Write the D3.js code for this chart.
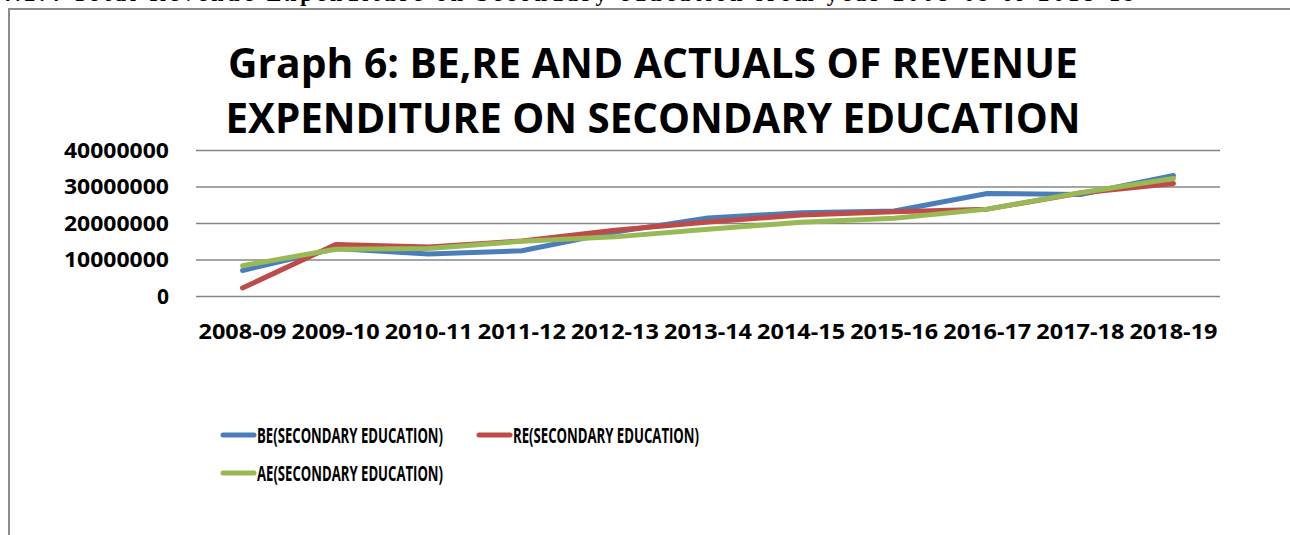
<!DOCTYPE html>
<html>
  <head>
    <meta charset="utf-8">
    <title>Graph 6</title>
    <script src="https://d3js.org/d3.v7.min.js"></script>
    <style>
      body { margin: 0; background: #fff; }
      text { font-family: "Open Sans", "DejaVu Sans", sans-serif; font-weight: bold; fill: #000; }
      .line { fill: none; stroke-width: 5; stroke-linejoin: round; stroke-linecap: round; }
    </style>
  </head>
  <body>
    <svg width="1290" height="535"></svg>
  <script>
    // data
    var years = ["2008-09", "2009-10", "2010-11", "2011-12", "2012-13", "2013-14",
                 "2014-15", "2015-16", "2016-17", "2017-18", "2018-19"];
    var beValues = [7000000, 13000000, 11500000, 12400000, 17500000, 21400000,
                    22800000, 23300000, 28100000, 27800000, 33000000];
    var reValues = [2200000, 14100000, 13400000, 15100000, 18000000, 20300000,
                    22200000, 23100000, 23800000, 28200000, 30800000];
    var aeValues = [8300000, 12800000, 13000000, 15000000, 16200000, 18300000,
                    20200000, 21300000, 23800000, 28300000, 32200000];
    var yTicks = [0, 10000000, 20000000, 30000000, 40000000];

    var series = [
      { name: "BE(SECONDARY EDUCATION)", values: beValues, color: "#4a7ebb" },
      { name: "RE(SECONDARY EDUCATION)", values: reValues, color: "#be4b48" },
      { name: "AE(SECONDARY EDUCATION)", values: aeValues, color: "#98b954" }
    ];

    var svg = d3.select("svg");

    // shrink/grow font so a text fits a given width
    function fitWidth(sel, target) {
      var size = parseFloat(sel.attr("font-size"));
      var len = sel.node().getComputedTextLength();
      sel.attr("font-size", (size * target / len).toFixed(2) + "px");
    }

    // clipped heading of the page above the chart
    svg.append("text")
       .attr("x", 0)
       .attr("y", 1)
       .attr("font-size", "22px")
       .style("font-family", "'Liberation Serif', serif")
       .attr("textLength", 1135)
       .attr("lengthAdjust", "spacing")
       .text("4.2.4   Total Revenue Expenditure on Secondary education from year 2008-09 to 2018-19");

    // chart border
    svg.append("path")
       .attr("d", "M9,535V9H1290")
       .attr("fill", "none")
       .attr("stroke", "#8c8c8c")
       .attr("stroke-width", 2);

    // title
    var t1 = svg.append("text")
       .attr("x", 653).attr("y", 78)
       .attr("text-anchor", "middle")
       .attr("font-size", "40px")
       .text("Graph 6: BE,RE AND ACTUALS OF REVENUE");
    fitWidth(t1, 850);
    var t2 = svg.append("text")
       .attr("x", 653).attr("y", 133)
       .attr("text-anchor", "middle")
       .attr("font-size", "40px")
       .text("EXPENDITURE ON SECONDARY EDUCATION");
    fitWidth(t2, 855);

    var plotLeft = 196, plotRight = 1220, plotTop = 150, plotBottom = 296;

    var xScale = d3.scaleBand().domain(years).range([plotLeft, plotRight]);
    var yScale = d3.scaleLinear().domain([0, 40000000]).range([plotBottom, plotTop]);

    // gridlines
    svg.append("g")
       .attr("transform", "translate(" + plotLeft + ",0)")
       .call(d3.axisLeft(yScale).tickValues(yTicks).tickSize(-(plotRight - plotLeft)).tickFormat(""))
       .call(function(g) { g.select(".domain").remove(); g.selectAll("text").remove(); })
       .selectAll("line")
       .attr("stroke", "#868686")
       .attr("stroke-width", 1.5);

    // y labels
    svg.append("g")
       .selectAll("text")
       .data(yTicks)
       .enter().append("text")
       .attr("x", 169)
       .attr("y", function(d) { return yScale(d); })
       .attr("dy", "0.36em")
       .attr("text-anchor", "end")
       .attr("font-size", "21px")
       .attr("lengthAdjust", "spacingAndGlyphs")
       .attr("textLength", function(d) { return d === 0 ? null : 105; })
       .text(function(d) { return d; });

    // x labels
    svg.append("g")
       .selectAll("text")
       .data(years)
       .enter().append("text")
       .attr("x", function(d) { return xScale(d) + xScale.bandwidth() / 2; })
       .attr("y", 339)
       .attr("text-anchor", "middle")
       .attr("font-size", "21px")
       .attr("lengthAdjust", "spacingAndGlyphs")
       .attr("textLength", 88)
       .text(function(d) { return d; });

    var line = d3.line()
       .x(function(d, i) { return xScale(years[i]) + xScale.bandwidth() / 2; })
       .y(function(d) { return yScale(d); });

    svg.selectAll(".line")
       .data(series)
       .enter().append("path")
       .attr("class", "line")
       .attr("stroke", function(d) { return d.color; })
       .attr("d", function(d) { return line(d.values); });

    // legend
    var legendPos = [[222, 435], [478, 435], [222, 473]];
    var lg = svg.selectAll(".legend")
       .data(series)
       .enter().append("g")
       .attr("class", "legend")
       .attr("transform", function(d, i) { return "translate(" + legendPos[i][0] + "," + legendPos[i][1] + ")"; });
    lg.append("line")
       .attr("x1", 1).attr("x2", 32)
       .attr("stroke", function(d) { return d.color; })
       .attr("stroke-width", 5)
       .attr("stroke-linecap", "round");
    lg.append("text")
       .attr("x", 35)
       .attr("dy", "0.36em")
       .attr("font-size", "21px")
       .attr("lengthAdjust", "spacingAndGlyphs")
       .attr("textLength", 186)
       .text(function(d) { return d.name; });
  </script>
  </body>
</html>
